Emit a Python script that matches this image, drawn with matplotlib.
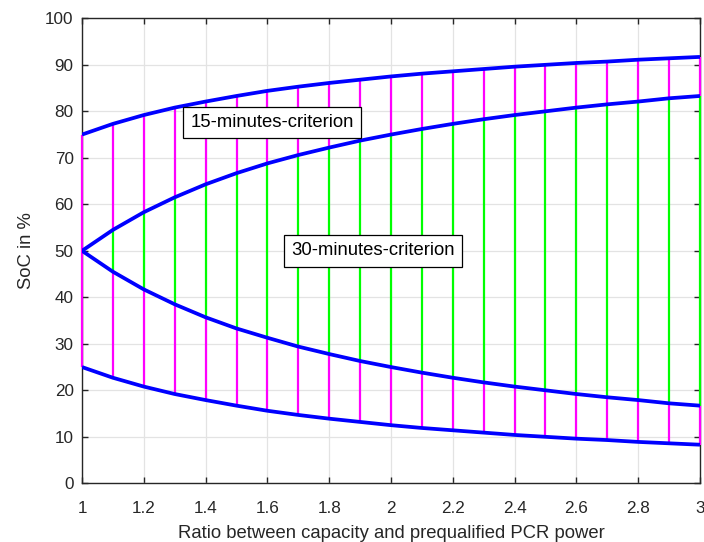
import matplotlib
matplotlib.use("Agg")
import matplotlib.pyplot as plt

plt.rcParams['font.family'] = ['Liberation Sans', 'DejaVu Sans']

# Ratio between battery capacity and prequalified PCR power
ratio = [1.0, 1.1, 1.2, 1.3, 1.4, 1.5, 1.6, 1.7, 1.8, 1.9, 2.0,
         2.1, 2.2, 2.3, 2.4, 2.5, 2.6, 2.7, 2.8, 2.9, 3.0]

# SoC limits (%) for the 15-minutes criterion
upper_15 = [75.0, 77.3, 79.2, 80.8, 82.1, 83.3, 84.4, 85.3, 86.1, 86.8, 87.5,
            88.1, 88.6, 89.1, 89.6, 90.0, 90.4, 90.7, 91.1, 91.4, 91.7]
lower_15 = [25.0, 22.7, 20.8, 19.2, 17.9, 16.7, 15.6, 14.7, 13.9, 13.2, 12.5,
            11.9, 11.4, 10.9, 10.4, 10.0, 9.6, 9.3, 8.9, 8.6, 8.3]

# SoC limits (%) for the 30-minutes criterion
upper_30 = [50.0, 54.5, 58.3, 61.5, 64.3, 66.7, 68.8, 70.6, 72.2, 73.7, 75.0,
            76.2, 77.3, 78.3, 79.2, 80.0, 80.8, 81.5, 82.1, 82.8, 83.3]
lower_30 = [50.0, 45.5, 41.7, 38.5, 35.7, 33.3, 31.3, 29.4, 27.8, 26.3, 25.0,
            23.8, 22.7, 21.7, 20.8, 20.0, 19.2, 18.5, 17.9, 17.2, 16.7]

x_ticks = [1.0, 1.2, 1.4, 1.6, 1.8, 2.0, 2.2, 2.4, 2.6, 2.8, 3.0]
x_tick_labels = ['1', '1.2', '1.4', '1.6', '1.8', '2', '2.2', '2.4', '2.6', '2.8', '3']
y_ticks = [0, 10, 20, 30, 40, 50, 60, 70, 80, 90, 100]

label_15 = '15-minutes-criterion'
label_30 = '30-minutes-criterion'

fig = plt.figure(figsize=(7.04, 5.42), dpi=100)
ax = fig.add_axes([0.1165, 0.1083, 0.8778, 0.8579])

magenta = '#ff00ff'
green = '#00ff00'
blue = '#0000ff'

# Vertical bands: allowed only by 15 min (magenta), allowed by 30 min (green)
for lo, hi, col in ((lower_15, lower_30, magenta),
                    (lower_30, upper_30, green),
                    (upper_30, upper_15, magenta)):
    ax.vlines(ratio, lo, hi, colors=col, linewidth=1.6, zorder=2.7,
              clip_on=False)

for series in (upper_15, lower_15, upper_30, lower_30):
    ax.plot(ratio, series, color=blue, linewidth=2.7, zorder=3,
            solid_capstyle='butt')

box = dict(boxstyle='square,pad=0.4', facecolor='white', edgecolor='black',
           linewidth=0.9)
ax.text(1.615, 77.6, label_15, ha='center', va='center', fontsize=13.3,
        bbox=box, zorder=5)
ax.text(1.941, 50.0, label_30, ha='center', va='center', fontsize=13.3,
        bbox=box, zorder=5)

ax.set_xlim(1, 3)
ax.set_ylim(0, 100)
ax.set_xticks(x_ticks)
ax.set_xticklabels(x_tick_labels)
ax.set_yticks(y_ticks)

ax.grid(True, color='#e3e3e3', linewidth=0.9)
ax.set_axisbelow(True)

for spine in ax.spines.values():
    spine.set_color('#262626')
    spine.set_linewidth(1.0)

ax.tick_params(direction='in', length=4.5, width=1.0, color='#262626',
               labelsize=12.3, labelcolor='#262626', top=True, right=True)
ax.tick_params(axis='x', pad=12.5)
ax.tick_params(axis='y', pad=6)

ax.set_xlabel('Ratio between capacity and prequalified PCR power',
              fontsize=13.3, color='#262626', labelpad=6.5)
ax.set_ylabel('SoC in %', fontsize=13.3, color='#262626', labelpad=7)

fig.savefig('out.png', dpi=100)
